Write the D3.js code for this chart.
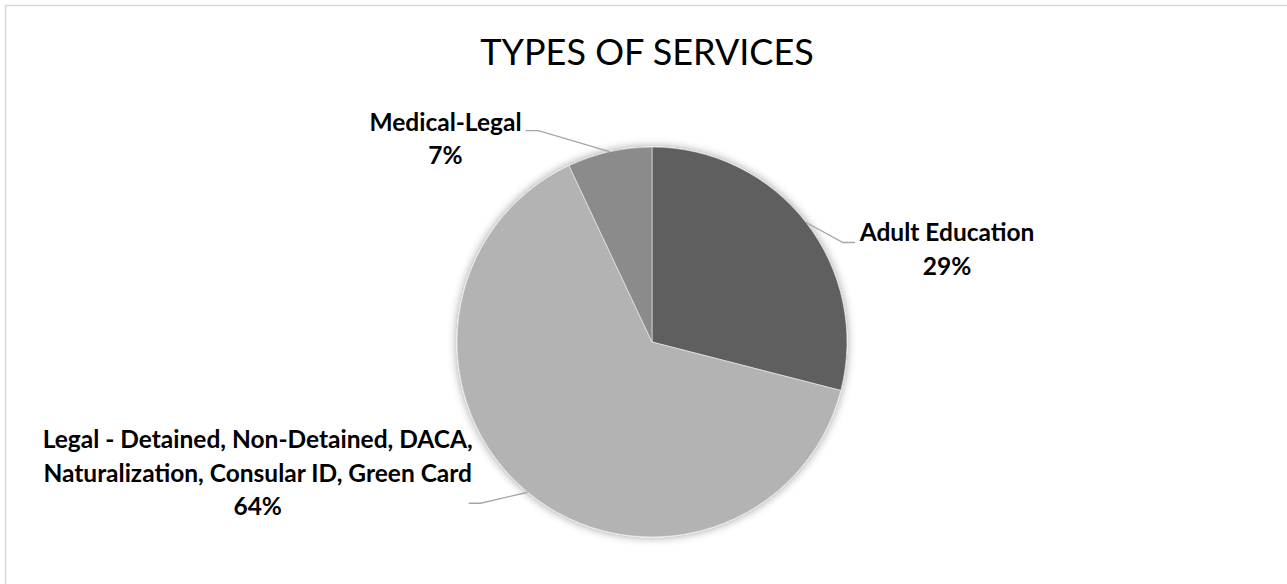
<!DOCTYPE html>
<html>
<head>
<meta charset="utf-8">
<script src="https://cdn.jsdelivr.net/npm/d3@7"></script>
<style>
  body { margin: 0; background: #fff; }
  svg { display: block; }
  text { font-family: Lato, "Open Sans", sans-serif; fill: #000; }
</style>
</head>
<body>
<svg id="chart" width="1287" height="584"></svg>
<script>
var title = 'TYPES OF SERVICES';
var categories = [
  'Adult Education',
  'Legal - Detained, Non-Detained, DACA, Naturalization, Consular ID, Green Card',
  'Medical-Legal'
];
// how each category name wraps in its label
var labelLines = [
  ['Adult Education'],
  ['Legal - Detained, Non-Detained, DACA,', 'Naturalization, Consular ID, Green Card'],
  ['Medical-Legal']
];
var values = [29, 64, 7];

var colors = ['#5f5f5f', '#b3b3b3', '#8b8b8b'];
// leader line: bend from the slice edge, then a short flat run, then label offset
var leaderBend = [[37, 20], [-47, 11], [-71, -21]];
var leaderRun = [12, -12, -13];
var labelOffset = [[92, -1], [-211, -55], [-80, 0]];

var width = 1287, height = 584,
    cx = 652, cy = 342, radius = 195,
    lineHeight = 33.5;

var svg = d3.select('#chart');

// chart area border (only top and left show in the frame)
svg.append('rect')
  .attr('x', 5.5).attr('y', 5.5)
  .attr('width', 1400).attr('height', 700)
  .attr('fill', 'none')
  .attr('stroke', '#d9d9d9')
  .attr('stroke-width', 1.5);

svg.append('text')
  .attr('x', 647).attr('y', 65)
  .attr('text-anchor', 'middle')
  .style('font-size', '36px')
  .text(title);

// soft outer shadow like the office chart
var defs = svg.append('defs');
var filter = defs.append('filter').attr('id', 'glow')
  .attr('x', '-20%').attr('y', '-20%').attr('width', '140%').attr('height', '140%');
filter.append('feGaussianBlur').attr('in', 'SourceAlpha').attr('stdDeviation', 5).attr('result', 'blur');
filter.append('feComponentTransfer').attr('in', 'blur').attr('result', 'faded')
  .append('feFuncA').attr('type', 'linear').attr('slope', 0.4);
var merge = filter.append('feMerge');
merge.append('feMergeNode').attr('in', 'faded');
merge.append('feMergeNode').attr('in', 'SourceGraphic');

var total = d3.sum(values);
var pct = d3.format('.0%');

var pie = d3.pie().sort(null).value(function(d) { return d; });
var arcs = pie(values);
var arc = d3.arc().innerRadius(0).outerRadius(radius);

var g = svg.append('g').attr('transform', 'translate(' + cx + ',' + cy + ')');

g.append('g').attr('filter', 'url(#glow)')
  .selectAll('path')
  .data(arcs)
  .enter().append('path')
    .attr('d', arc)
    .attr('fill', function(d, i) { return colors[i]; })
    .attr('stroke', 'rgba(255,255,255,0.5)')
    .attr('stroke-width', 1);

function edgePoint(d) {
  var a = (d.startAngle + d.endAngle) / 2;
  return [radius * Math.sin(a), -radius * Math.cos(a)];
}

var labels = g.selectAll('g.label')
  .data(arcs)
  .enter().append('g')
    .attr('class', 'label');

labels.append('polyline')
  .attr('fill', 'none')
  .attr('stroke', '#a6a6a6')
  .attr('stroke-width', 1.3)
  .attr('points', function(d, i) {
    var p0 = edgePoint(d),
        p1 = [p0[0] + leaderBend[i][0], p0[1] + leaderBend[i][1]],
        p2 = [p1[0] + leaderRun[i], p1[1]];
    return [p0, p1, p2].map(function(p) { return p.join(','); }).join(' ');
  });

labels.append('text')
  .attr('text-anchor', 'middle')
  .style('font-size', '24.5px')
  .style('font-weight', 'bold')
  .each(function(d, i) {
    var p0 = edgePoint(d),
        x = p0[0] + leaderBend[i][0] + leaderRun[i] + labelOffset[i][0],
        y = p0[1] + leaderBend[i][1] + labelOffset[i][1],
        lines = labelLines[i].concat([pct(d.value / total)]),
        t = d3.select(this);
    lines.forEach(function(line, k) {
      t.append('tspan')
        .attr('x', x)
        .attr('y', y + k * lineHeight)
        .text(line);
    });
  });
</script>
</body>
</html>
